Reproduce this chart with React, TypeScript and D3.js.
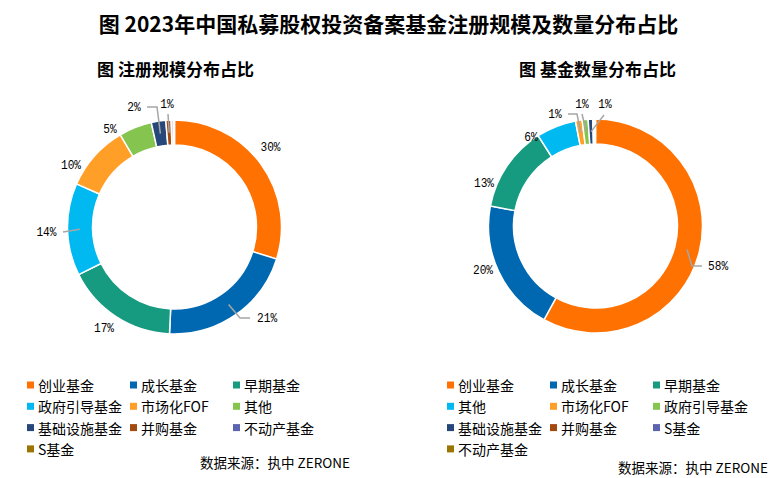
import React from 'react';
import * as d3 from 'd3';

const title = '图 2023年中国私募股权投资备案基金注册规模及数量分布占比';
const leftTitle = '图 注册规模分布占比';
const rightTitle = '图 基金数量分布占比';
const sourceText = '数据来源：执中 ZERONE';

const leftCategories = ['创业基金', '成长基金', '早期基金', '政府引导基金', '市场化FOF', '其他', '基础设施基金', '并购基金', '不动产基金', 'S基金'];
const leftValues = [30, 21, 17, 14, 10, 5, 2.2, 0.8, 0.3, 0.2];
const leftLabels = ['30%', '21%', '17%', '14%', '10%', '5%', '2%', '1%', '', ''];

const rightCategories = ['创业基金', '成长基金', '早期基金', '其他', '市场化FOF', '政府引导基金', '基础设施基金', '并购基金', 'S基金', '不动产基金'];
const rightValues = [58, 20, 13, 6, 1, 0.9, 0.7, 0.2, 0.1, 0.1];
const rightLabels = ['58%', '20%', '13%', '6%', '1%', '1%', '1%', '', '', ''];

const palette = ['#FF7100', '#0068B0', '#169B80', '#00B9F1', '#FF9F28', '#85C54F', '#27467A', '#A34A10', '#5D63AE', '#9C7400'];

type LabelLayout = { dx: number; dy: number; anchor: string; knots: [number, number][] } | null;

const leftLayout: LabelLayout[] = [
  { dx: 96, dy: -80, anchor: 'middle', knots: [] },
  { dx: 82.5, dy: 91, anchor: 'start', knots: [[65.5, 91], [75.5, 91]] },
  { dx: -70.5, dy: 101, anchor: 'middle', knots: [] },
  { dx: -118, dy: 5, anchor: 'end', knots: [[-111.5, 5]] },
  { dx: -103.5, dy: -62, anchor: 'middle', knots: [] },
  { dx: -64.5, dy: -98, anchor: 'middle', knots: [] },
  { dx: -40.5, dy: -120, anchor: 'middle', knots: [[-17.5, -120], [-27.5, -120]] },
  { dx: -7.5, dy: -123, anchor: 'middle', knots: [[-6.5, -113]] },
  null,
  null,
];

const rightLayout: LabelLayout[] = [
  { dx: 112.5, dy: 40, anchor: 'start', knots: [[96.5, 40], [106.5, 40]] },
  { dx: -112.5, dy: 44, anchor: 'middle', knots: [] },
  { dx: -111.5, dy: -43, anchor: 'middle', knots: [] },
  { dx: -64.5, dy: -89, anchor: 'middle', knots: [] },
  { dx: -40.5, dy: -112, anchor: 'middle', knots: [[-18.5, -112], [-27.5, -112]] },
  { dx: -13.5, dy: -122, anchor: 'middle', knots: [[-13.5, -112]] },
  { dx: 9.5, dy: -122, anchor: 'middle', knots: [[8.5, -111]] },
  null,
  null,
  null,
];

const CJK = '"Noto Sans CJK SC", "Noto Sans", sans-serif';
const NUM = '"Liberation Mono", "DejaVu Sans Mono", monospace';

function Donut(props: {
  cx: number; cy: number; values: number[]; labels: string[]; layout: LabelLayout[];
}) {
  const { cx, cy, values, labels, layout } = props;
  const outerR = 107;
  const innerR = 82;
  const pie = d3.pie<number>().sort(null).value((d) => d);
  const arcs = pie(values);
  const arc = d3.arc<d3.PieArcDatum<number>>().innerRadius(innerR).outerRadius(outerR);
  const midArc = d3.arc<d3.PieArcDatum<number>>().innerRadius((innerR + outerR) / 2).outerRadius((innerR + outerR) / 2);
  const line = d3.line<[number, number]>();
  return (
    <g transform={`translate(${cx},${cy})`}>
      {arcs.map((a, i) => (
        <path key={i} d={arc(a) || ''} fill={palette[i]} stroke="#fff" strokeWidth={1.5} />
      ))}
      {arcs.map((a, i) => {
        const l = layout[i];
        if (!l || !labels[i]) return null;
        const c = midArc.centroid(a) as [number, number];
        const pts: [number, number][] = [c, ...l.knots];
        return (
          <g key={'l' + i}>
            {l.knots.length > 0 && (
              <path d={line(pts) || ''} fill="none" stroke="#A6A6A6" strokeWidth={1.5} />
            )}
            <text x={l.dx} y={l.dy} textAnchor={l.anchor} dominantBaseline="central"
              fontFamily={NUM} fontSize={13.5} fill="#000"
              textLength={labels[i].length * 6.7} lengthAdjust="spacingAndGlyphs">{labels[i]}</text>
          </g>
        );
      })}
    </g>
  );
}

function Legend(props: { x: number; y: number; categories: string[] }) {
  const { x, y, categories } = props;
  const colStep = 103;
  const rowStep = 21.3;
  return (
    <g>
      {categories.map((c, i) => {
        const col = i % 3;
        const row = Math.floor(i / 3);
        const sx = x + col * colStep;
        const sy = y + row * rowStep;
        return (
          <g key={i}>
            <rect x={sx} y={sy - 3.5} width={7} height={7} fill={palette[i]} />
            <text x={sx + 11} y={sy} dominantBaseline="central" fontFamily={CJK} fontSize={14} fill="#000">{c}</text>
          </g>
        );
      })}
    </g>
  );
}

export default function App() {
  return (
    <div style={{ position: 'absolute', left: 0, top: 0, width: 781, height: 478, background: '#fff' }}>
      <svg width={781} height={478} viewBox="0 0 781 478">
        <rect width={781} height={478} fill="#fff" />
        <text x={388.5} y={23} textAnchor="middle" dominantBaseline="central" fontFamily={CJK}
          fontWeight="bold" fontSize={21} fill="#000">{title}</text>
        <text x={175.5} y={68} textAnchor="middle" dominantBaseline="central" fontFamily={CJK}
          fontWeight="bold" fontSize={17} fill="#000">{leftTitle}</text>
        <text x={597.5} y={68} textAnchor="middle" dominantBaseline="central" fontFamily={CJK}
          fontWeight="bold" fontSize={17} fill="#000">{rightTitle}</text>
        <Donut cx={174.5} cy={227} values={leftValues} labels={leftLabels} layout={leftLayout} />
        <Donut cx={595.5} cy={226} values={rightValues} labels={rightLabels} layout={rightLayout} />
        <Legend x={27} y={385} categories={leftCategories} />
        <Legend x={447} y={385} categories={rightCategories} />
        <text x={350} y={462} textAnchor="end" dominantBaseline="central" fontFamily={CJK} fontSize={13.5} fill="#000">{sourceText}</text>
        <text x={768} y={467} textAnchor="end" dominantBaseline="central" fontFamily={CJK} fontSize={13.5} fill="#000">{sourceText}</text>
      </svg>
    </div>
  );
}
